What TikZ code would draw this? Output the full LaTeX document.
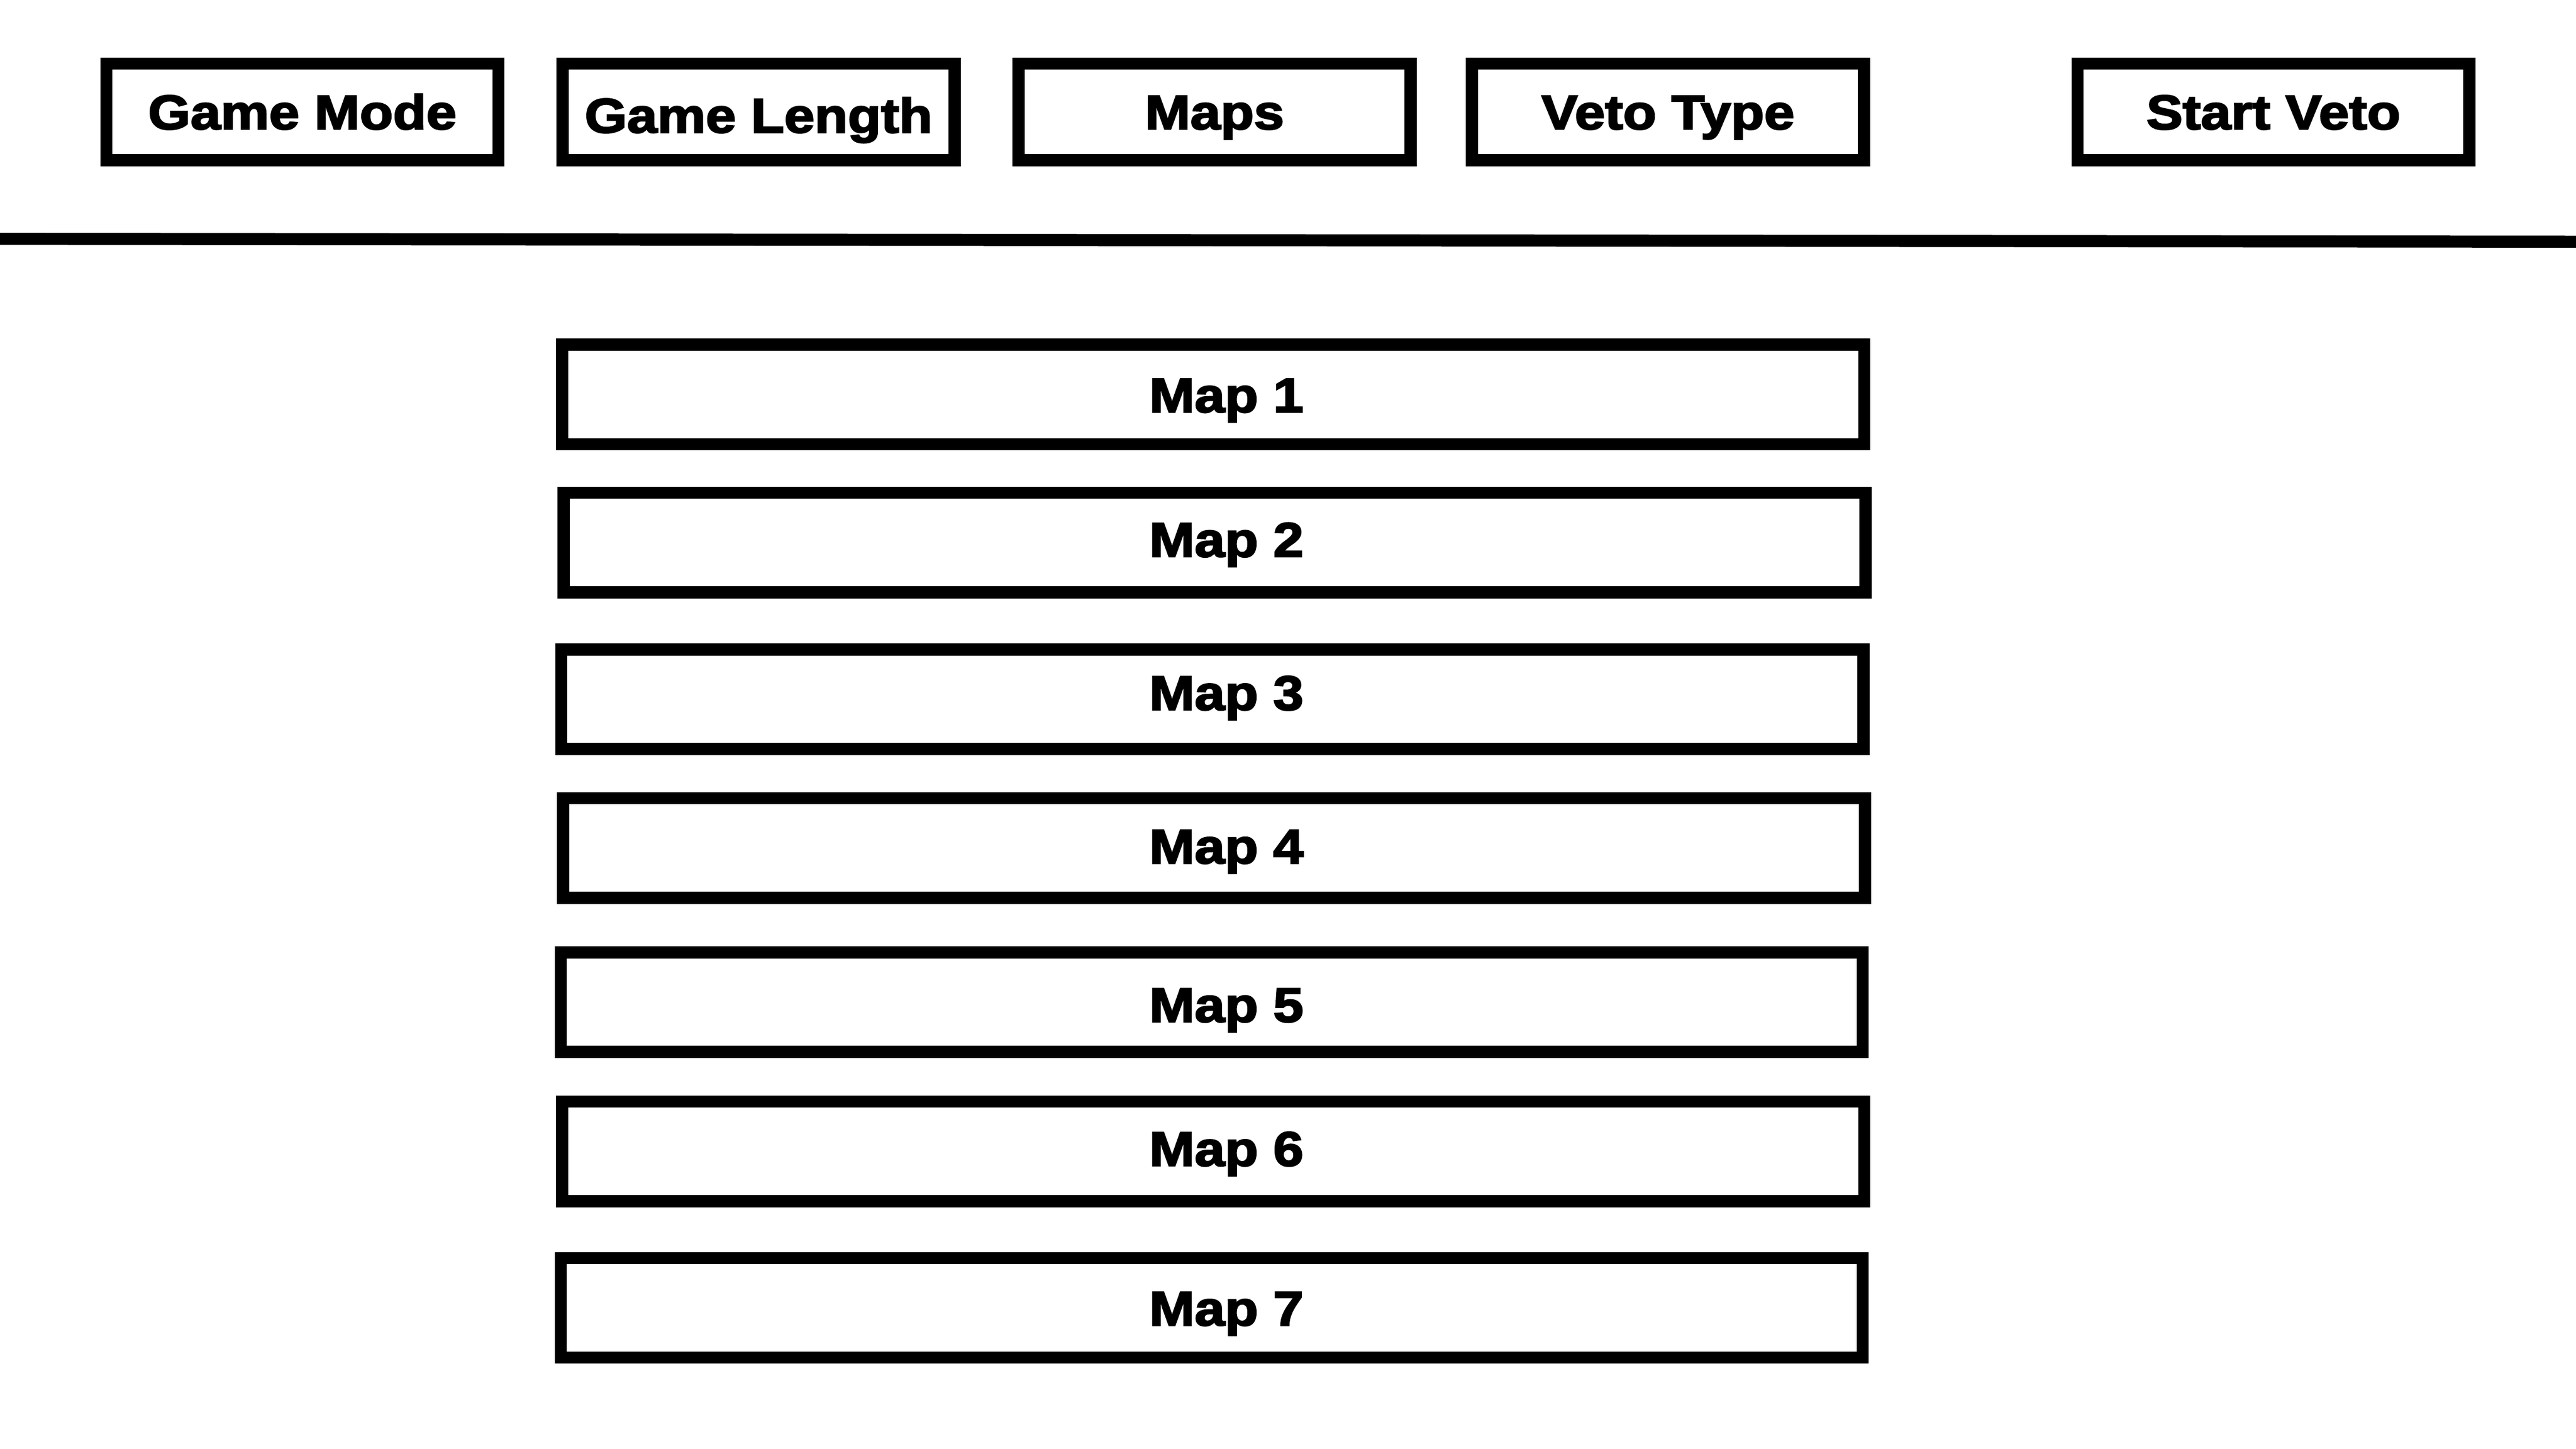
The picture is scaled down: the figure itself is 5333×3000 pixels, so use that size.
\documentclass[tikz,border=0pt]{standalone}
\usepackage{fontspec}
\setmainfont{Liberation Sans}[FakeStretch=1.12,FakeBold=3]
\begin{document}
\begin{tikzpicture}[x=0.01cm,y=-0.01cm,
  btnfont/.style={font=\fontsize{28.6pt}{34pt}\selectfont\bfseries},
  topbox/.style={draw=black,line width=0.25cm,minimum width=8.11cm,minimum height=2.0cm,
     inner sep=0pt,text height=0.72cm,text depth=0pt,btnfont},
  mapbox/.style={draw=black,line width=0.25cm,minimum width=26.94cm,minimum height=2.06cm,inner sep=0pt},
  maplbl/.style={inner sep=0pt,text height=0.72cm,text depth=0pt,btnfont},
  divider/.style={line width=0.25cm}]
\useasboundingbox[fill=white] (0,0) rectangle (5333,3000);

% top bar buttons
\node[topbox] (gamemode)   at (626,231.5)    {Game Mode};
\node[topbox,text height=0.86cm] (gamelength) at (1570.5,231.5) {Game Length};
\node[topbox] (maps)       at (2514.5,231.5) {Maps};
\node[topbox] (vetotype)   at (3453,231.5)   {Veto Type};
\node[topbox] (startveto)  at (4706.5,231.5) {Start Veto};

% divider
\coordinate (divL) at (0,494.5);
\coordinate (divR) at (5333,500.5);
\draw[divider] (divL) -- (divR);

% map list
\node[mapbox] (m1) at (2511.5,816.75) {};
\node[mapbox] (m2) at (2514.5,1123.5) {};
\node[mapbox] (m3) at (2510,1448) {};
\node[mapbox] (m4) at (2513.5,1756) {};
\node[mapbox] (m5) at (2508.5,2075) {};
\node[mapbox] (m6) at (2511.5,2384) {};
\node[mapbox] (m7) at (2508.5,2708) {};

\node[maplbl] (m1t) at (2539,817.5) {Map 1};
\node[maplbl] (m2t) at (2539,1116.7) {Map 2};
\node[maplbl] (m3t) at (2539,1434) {Map 3};
\node[maplbl] (m4t) at (2539,1751.7) {Map 4};
\node[maplbl] (m5t) at (2539,2080) {Map 5};
\node[maplbl] (m6t) at (2539,2378) {Map 6};
\node[maplbl] (m7t) at (2539,2708.5) {Map 7};
\end{tikzpicture}
\end{document}
